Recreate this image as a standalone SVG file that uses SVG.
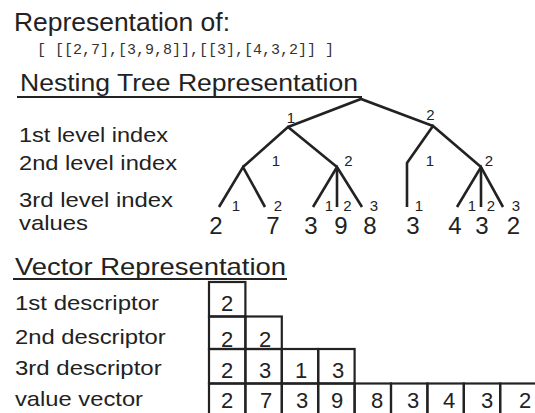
<svg xmlns="http://www.w3.org/2000/svg" width="535" height="413" viewBox="0 0 535 413">
<style>
text{font-family:"Liberation Sans",Arial,sans-serif;fill:#222}
.h{font-size:25px}
.lb{font-size:21px}
.mono{font-family:"Liberation Mono","Courier New",monospace;font-size:15px;fill:#333}
.sm{font-size:15px;text-anchor:middle}
.val{font-size:24px;text-anchor:middle}
.cd{font-size:22px;text-anchor:middle}
.ln{stroke:#222;stroke-width:2.6;fill:none;stroke-linejoin:miter}
.ul{stroke:#222;stroke-width:1.8}
.cell{fill:none;stroke:#222;stroke-width:2.2}
</style>
<rect width="535" height="413" fill="#fff"/>
<g id="titles">
<text class="h" x="14" y="31" textLength="216" lengthAdjust="spacingAndGlyphs">Representation of:</text>
<text class="mono" x="37" y="53.5">[ [[2,7],[3,9,8]],[[3],[4,3,2]] ]</text>
<text class="h" x="20" y="91" style="font-size:23px" textLength="338" lengthAdjust="spacingAndGlyphs">Nesting Tree Representation</text>
<line class="ul" x1="17" y1="97" x2="362" y2="97"/>
<text class="lb" x="19" y="141.5" textLength="149" lengthAdjust="spacingAndGlyphs">1st level index</text>
<text class="lb" x="19" y="170" textLength="158" lengthAdjust="spacingAndGlyphs">2nd level index</text>
<text class="lb" x="19" y="206.5" textLength="154" lengthAdjust="spacingAndGlyphs">3rd level index</text>
<text class="lb" x="19" y="230" textLength="69" lengthAdjust="spacingAndGlyphs">values</text>
<text class="h" x="15" y="274.5" style="font-size:24px" textLength="271" lengthAdjust="spacingAndGlyphs">Vector  Representation</text>
<line class="ul" x1="13" y1="279" x2="287" y2="279"/>
<text class="lb" x="15" y="310" textLength="144" lengthAdjust="spacingAndGlyphs">1st descriptor</text>
<text class="lb" x="15" y="343.5" textLength="150.7" lengthAdjust="spacingAndGlyphs">2nd descriptor</text>
<text class="lb" x="15" y="375" textLength="146.7" lengthAdjust="spacingAndGlyphs">3rd descriptor</text>
<text class="lb" x="15" y="406" textLength="128" lengthAdjust="spacingAndGlyphs">value vector</text>
</g>
<g id="connectors">
<polyline class="ln" points="288,127 361,99 433,126"/>
<polyline class="ln" points="243,167 288,127 337,167"/>
<polyline class="ln" points="219,207 243,167 265,207"/>
<polyline class="ln" points="313,207 337,167 362,207"/>
<line class="ln" x1="337" y1="167" x2="337" y2="207"/>
<polyline class="ln" points="407,207 407,163 433,126 481,167"/>
<polyline class="ln" points="457,207 481,167 503,207"/>
<line class="ln" x1="481" y1="167" x2="481" y2="207"/>
</g>
<g id="node-1"><text class="sm" x="291" y="123">1</text></g>
<g id="node-2"><text class="sm" x="430.5" y="120">2</text></g>
<g id="node-1-1"><text class="sm" x="276" y="166">1</text></g>
<g id="node-1-2"><text class="sm" x="348.5" y="166">2</text></g>
<g id="node-2-1"><text class="sm" x="430" y="166">1</text></g>
<g id="node-2-2"><text class="sm" x="489" y="166">2</text></g>
<g id="leaf-1-1-1"><text class="sm" x="236" y="210.5">1</text><text class="val" x="216" y="234">2</text></g>
<g id="leaf-1-1-2"><text class="sm" x="278" y="210.5">2</text><text class="val" x="273" y="234">7</text></g>
<g id="leaf-1-2-1"><text class="sm" x="329" y="210.5">1</text><text class="val" x="311" y="234">3</text></g>
<g id="leaf-1-2-2"><text class="sm" x="347.5" y="210.5">2</text><text class="val" x="341" y="234">9</text></g>
<g id="leaf-1-2-3"><text class="sm" x="374" y="210.5">3</text><text class="val" x="370" y="234">8</text></g>
<g id="leaf-2-1-1"><text class="sm" x="419" y="210.5">1</text><text class="val" x="413" y="234">3</text></g>
<g id="leaf-2-2-1"><text class="sm" x="472" y="210.5">1</text><text class="val" x="455" y="234">4</text></g>
<g id="leaf-2-2-2"><text class="sm" x="491" y="210.5">2</text><text class="val" x="482" y="234">3</text></g>
<g id="leaf-2-2-3"><text class="sm" x="516" y="210.5">3</text><text class="val" x="513.5" y="234">2</text></g>
<g id="vector-grid">
<g id="row-1">
<rect class="cell" x="209" y="282" width="36.4" height="34.5"/>
<text class="cd" x="227" y="311">2</text>
</g>
<g id="row-2">
<rect class="cell" x="209" y="316.5" width="36.4" height="32.5"/>
<rect class="cell" x="245.4" y="316.5" width="36.4" height="32.5"/>
<text class="cd" x="227" y="347">2</text><text class="cd" x="265" y="347">2</text>
</g>
<g id="row-3">
<rect class="cell" x="209" y="349" width="36.4" height="34.5"/>
<rect class="cell" x="245.4" y="349" width="36.4" height="34.5"/>
<rect class="cell" x="281.8" y="349" width="36.4" height="34.5"/>
<rect class="cell" x="318.2" y="349" width="36.4" height="34.5"/>
<text class="cd" x="227" y="378">2</text><text class="cd" x="265" y="378">3</text><text class="cd" x="301" y="378">1</text><text class="cd" x="338" y="378">3</text>
</g>
<g id="row-4">
<rect class="cell" x="209" y="383.5" width="36.4" height="40"/>
<rect class="cell" x="245.4" y="383.5" width="36.4" height="40"/>
<rect class="cell" x="281.8" y="383.5" width="36.4" height="40"/>
<rect class="cell" x="318.2" y="383.5" width="36.4" height="40"/>
<rect class="cell" x="354.6" y="383.5" width="36.4" height="40"/>
<rect class="cell" x="391" y="383.5" width="36.4" height="40"/>
<rect class="cell" x="427.4" y="383.5" width="36.4" height="40"/>
<rect class="cell" x="463.8" y="383.5" width="36.4" height="40"/>
<rect class="cell" x="500.2" y="383.5" width="40" height="40"/>
<text class="cd" x="227" y="408">2</text><text class="cd" x="266" y="408">7</text><text class="cd" x="302" y="408">3</text><text class="cd" x="337" y="408">9</text><text class="cd" x="377" y="408">8</text><text class="cd" x="413" y="408">3</text><text class="cd" x="449" y="408">4</text><text class="cd" x="487" y="408">3</text><text class="cd" x="525" y="408">2</text>
</g>
</g>
</svg>
